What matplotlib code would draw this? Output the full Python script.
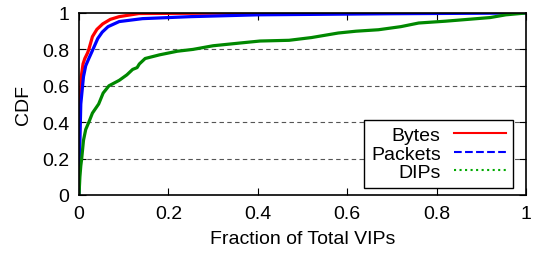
import numpy as np
from matplotlib import pyplot as plt

plt.rcParams['font.family'] = ['Liberation Sans', 'DejaVu Sans']

# CDF curves (fraction of VIPs, CDF)
bytes_x = [0, 0.001, 0.002, 0.005, 0.009, 0.013, 0.019, 0.022, 0.03, 0.04, 0.053, 0.07, 0.09, 0.134, 0.3, 0.75]
bytes_y = [0, 0.3, 0.5, 0.65, 0.72, 0.75, 0.78, 0.8, 0.87, 0.91, 0.94, 0.965, 0.98, 0.997, 0.999, 1.0]

packets_x = [0, 0.001, 0.004, 0.01, 0.015, 0.022, 0.033, 0.042, 0.052, 0.065, 0.09, 0.142, 0.25, 0.4, 0.7, 1.0]
packets_y = [0, 0.2, 0.5, 0.65, 0.71, 0.75, 0.81, 0.86, 0.895, 0.925, 0.953, 0.969, 0.98, 0.99, 0.996, 1.0]

dips_x = [0, 0.002, 0.004, 0.006, 0.01, 0.015, 0.022, 0.03, 0.044, 0.054, 0.067, 0.09, 0.107,
          0.12, 0.13, 0.135, 0.148, 0.18, 0.22, 0.255, 0.3, 0.36, 0.405, 0.47, 0.52, 0.58,
          0.62, 0.67, 0.72, 0.76, 0.82, 0.88, 0.92, 0.955, 1.0]
dips_y = [0, 0.1, 0.16, 0.2, 0.3, 0.36, 0.4, 0.45, 0.5, 0.56, 0.6, 0.63, 0.66,
          0.69, 0.7, 0.72, 0.75, 0.77, 0.79, 0.80, 0.82, 0.835, 0.846, 0.85, 0.865, 0.89,
          0.9, 0.908, 0.925, 0.945, 0.955, 0.967, 0.975, 0.99, 1.0]

xticks = [0, 0.2, 0.4, 0.6, 0.8, 1]
yticks = [0, 0.2, 0.4, 0.6, 0.8, 1]
tick_labels = ["0", "0.2", "0.4", "0.6", "0.8", "1"]

fig = plt.figure(figsize=(5.36, 2.55), dpi=100)
ax = fig.add_axes([0.1474, 0.2314, 0.8339, 0.7137])

for y in yticks[1:-1]:
    ax.axhline(y, color="#555555", linestyle=(0, (4, 3)), linewidth=0.8, zorder=0)

ax.plot(bytes_x, bytes_y, color="#ff0000", linewidth=2.3)
ax.plot(packets_x, packets_y, color="#0000ff", linewidth=2.3)
ax.plot(dips_x, dips_y, color="#008800", linewidth=2.3)

ax.set_xlim(0, 1)
ax.set_ylim(0, 1)
ax.set_xticks(xticks)
ax.set_yticks(yticks)
ax.set_xticklabels(tick_labels)
ax.set_yticklabels(tick_labels)
ax.tick_params(direction="in", top=True, right=True, labelsize=14, length=5, pad=7)
for s in ax.spines.values():
    s.set_linewidth(1.2)

ax.set_xlabel("Fraction of Total VIPs", fontsize=14, labelpad=6)
ax.set_ylabel("CDF", fontsize=14, labelpad=7)

# legend in gnuplot style: text first, sample after
handles = [plt.Line2D([], [], color="#ff0000", linestyle="-", linewidth=1.5),
           plt.Line2D([], [], color="#0000ff", linestyle="--", linewidth=1.5),
           plt.Line2D([], [], color="#00aa00", linestyle=":", linewidth=1.5)]
leg = ax.legend(handles, ["Bytes", "Packets", "DIPs"], loc="lower right",
                bbox_to_anchor=(0.971, 0.038),
                markerfirst=False, fontsize=14, frameon=True, fancybox=False,
                edgecolor="black", framealpha=1, borderpad=0.35, labelspacing=0.05,
                handlelength=2.7, handletextpad=0.67, borderaxespad=0)
leg.get_frame().set_linewidth(1.0)

fig.savefig("out.png", dpi=100)
